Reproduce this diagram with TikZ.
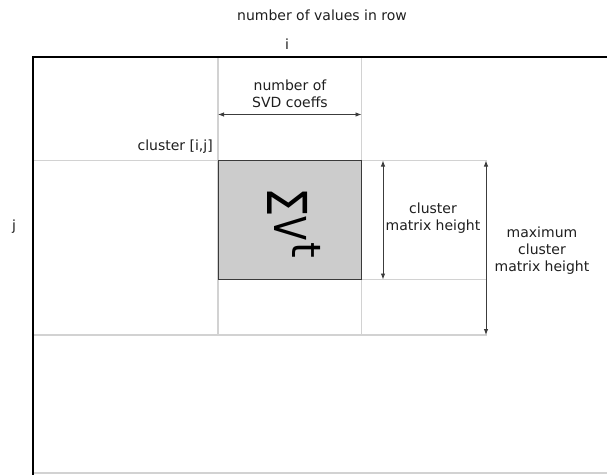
\documentclass[tikz,border=0pt]{standalone}
\usepackage{fontspec}
\setmainfont{DejaVu Sans}
\usetikzlibrary{arrows.meta}
\definecolor{ink}{HTML}{1E1E1E}
\definecolor{gridgray}{HTML}{D2D2D2}
\definecolor{cellfill}{HTML}{CCCCCC}
\definecolor{edgegray}{HTML}{3A3A3A}
\definecolor{dimgray}{HTML}{3C3C3C}
\begin{document}
\begin{tikzpicture}[x=1pt,y=-1pt,
  lbl/.style={font=\fontsize{14}{17}\selectfont, text=ink, inner sep=0pt, align=center},
  big/.style={text=black, inner sep=0pt, rotate=-90, anchor=base west},
  gridline/.style={draw=gridgray, line width=1.3pt},
  frame/.style={draw=black, line width=1.8pt},
  dimarrow/.style={draw=dimgray, line width=0.9pt,
    {Latex[length=6pt,width=4.5pt]}-{Latex[length=6pt,width=4.5pt]}},
]
\useasboundingbox (0,0) rectangle (607,475);

% grid corners
\coordinate (tl) at (33,57);
\coordinate (tr) at (607,57);
\coordinate (bl) at (33,475);
\coordinate (c1top) at (218,57);
\coordinate (c2top) at (361.5,57);
\coordinate (c1bot) at (218,335);
\coordinate (c2bot) at (361.5,335);
\coordinate (r1l) at (33,160.5);
\coordinate (r1r) at (487,160.5);
\coordinate (r2l) at (33,335);
\coordinate (r2r) at (487,335);
\coordinate (hl) at (361.5,279.5);
\coordinate (hr) at (487,279.5);
\coordinate (botl) at (33,473);
\coordinate (botr) at (607,473);

% light cell lines
\draw[gridline] (c1top) -- (c1bot);
\draw[gridline] (c2top) -- (c2bot);
\draw[gridline] (r1l) -- (r1r);
\draw[gridline] (r2l) -- (r2r);
\draw[gridline] (hl) -- (hr);
\draw[gridline] (botl) -- (botr);

% the stored cluster block
\draw[fill=cellfill, draw=edgegray, line width=1pt] (218,160.5) rectangle (361.5,279.5);

% outer matrix frame
\draw[frame] (tr) -- (tl) -- (bl);

% dimension arrows
\coordinate (svdl) at (218,114.5);
\coordinate (svdr) at (361.5,114.5);
\coordinate (cht) at (383,160.5);
\coordinate (chb) at (383,279.5);
\coordinate (mht) at (486,160.5);
\coordinate (mhb) at (486,335);
\draw[dimarrow] (svdl) -- (svdr);
\draw[dimarrow] (cht) -- (chb);
\draw[dimarrow] (mht) -- (mhb);

% labels
\node[lbl, anchor=base] (rowlbl) at (322,20) {number of values in row};
\node[lbl, anchor=base] (ilbl) at (287,49) {i};
\node[lbl, anchor=base] (jlbl) at (14,230) {j};
\node[lbl, anchor=base east] (clbl) at (213,150) {cluster [i,j]};
\node[lbl] (svdlbl) at (290,94.2) {number of\\SVD coeffs};
\node[lbl] (chlbl) at (433,217.9) {cluster\\matrix height};
\node[lbl] (mhlbl) at (542,250.8) {maximum\\cluster\\matrix height};

% Sigma V^t, set sideways inside the block
\node[big, font=\fontsize{55}{55}\selectfont] (sig) at (267,187.5) {\scalebox{0.85}[1]{Σ}};
\node[big, font=\fontsize{44}{44}\selectfont] (vee) at (274,216.5) {\scalebox{0.8}[1]{V}};
\node[big, font=\fontsize{40}{40}\selectfont] (tee) at (292,242) {t};
\end{tikzpicture}
\end{document}
